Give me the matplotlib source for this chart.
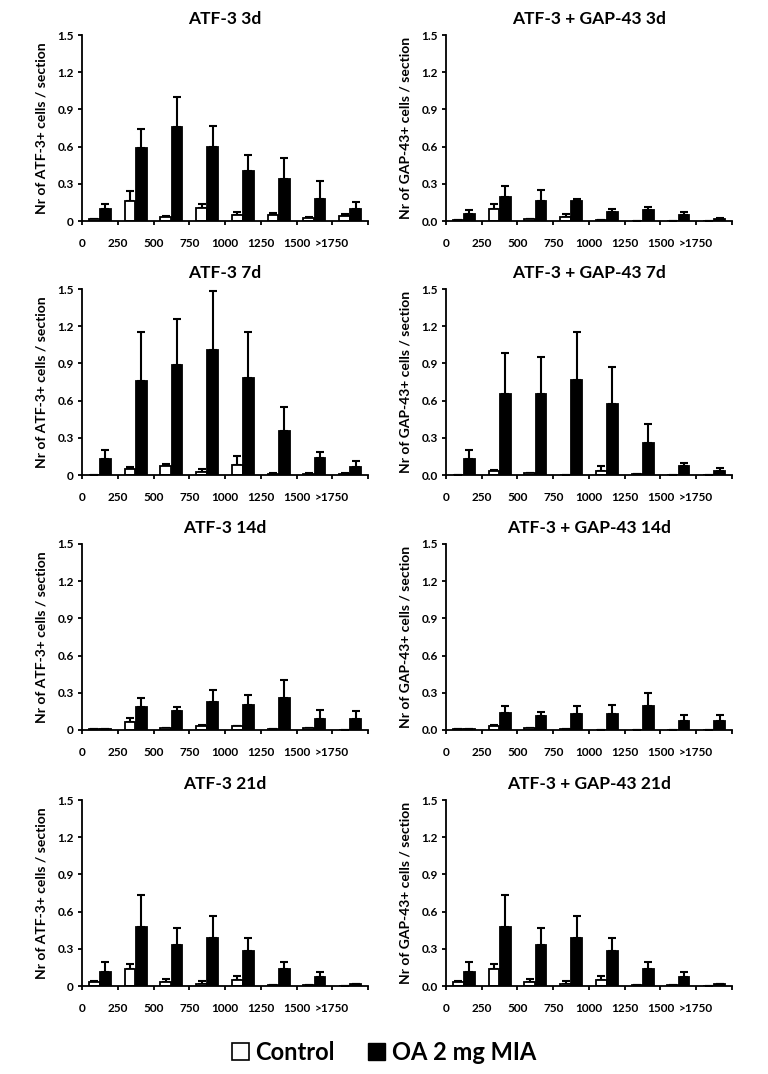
import numpy as np
import matplotlib
matplotlib.use("Agg")
import matplotlib.pyplot as plt
from matplotlib.patches import Patch

plt.rcParams['font.family'] = ['Lato', 'DejaVu Sans']
plt.rcParams['font.weight'] = 'bold'

bins = ['0', '250', '500', '750', '1000', '1250', '1500', '>1750']

# mean values and upper error-bar tops
atf3_3d_ctrl      = [0.015, 0.165, 0.03, 0.105, 0.05, 0.05, 0.025, 0.04]
atf3_3d_ctrl_top  = [0.02, 0.24, 0.04, 0.14, 0.075, 0.065, 0.035, 0.055]
atf3_3d_mia       = [0.10, 0.585, 0.755, 0.60, 0.40, 0.34, 0.175, 0.095]
atf3_3d_mia_top   = [0.135, 0.745, 1.0, 0.77, 0.53, 0.51, 0.325, 0.15]

gap43_3d_ctrl     = [0.01, 0.10, 0.02, 0.035, 0.01, 0.0, 0.0, 0.0]
gap43_3d_ctrl_top = [0.01, 0.14, 0.02, 0.055, 0.01, 0.0, 0.0, 0.0]
gap43_3d_mia      = [0.06, 0.195, 0.165, 0.16, 0.075, 0.09, 0.045, 0.02]
gap43_3d_mia_top  = [0.09, 0.285, 0.25, 0.175, 0.095, 0.115, 0.075, 0.025]

atf3_7d_ctrl      = [0.0, 0.05, 0.072, 0.025, 0.078, 0.01, 0.01, 0.01]
atf3_7d_ctrl_top  = [0.0, 0.065, 0.085, 0.05, 0.155, 0.02, 0.02, 0.02]
atf3_7d_mia       = [0.13, 0.76, 0.89, 1.01, 0.785, 0.355, 0.14, 0.067]
atf3_7d_mia_top   = [0.205, 1.155, 1.255, 1.485, 1.155, 0.545, 0.188, 0.115]

gap43_7d_ctrl     = [0.0, 0.035, 0.02, 0.0, 0.035, 0.01, 0.0, 0.0]
gap43_7d_ctrl_top = [0.0, 0.04, 0.02, 0.0, 0.07, 0.01, 0.0, 0.0]
gap43_7d_mia      = [0.13, 0.657, 0.657, 0.77, 0.575, 0.255, 0.07, 0.035]
gap43_7d_mia_top  = [0.205, 0.985, 0.953, 1.154, 0.872, 0.41, 0.097, 0.056]

atf3_14d_ctrl      = [0.01, 0.067, 0.02, 0.03, 0.03, 0.01, 0.02, 0.0]
atf3_14d_ctrl_top  = [0.01, 0.10, 0.02, 0.04, 0.03, 0.01, 0.02, 0.0]
atf3_14d_mia       = [0.01, 0.188, 0.15, 0.228, 0.20, 0.26, 0.09, 0.09]
atf3_14d_mia_top   = [0.01, 0.26, 0.188, 0.322, 0.28, 0.405, 0.16, 0.155]

gap43_14d_ctrl     = [0.01, 0.035, 0.015, 0.005, 0.0, 0.0, 0.0, 0.0]
gap43_14d_ctrl_top = [0.01, 0.04, 0.015, 0.005, 0.0, 0.0, 0.0, 0.0]
gap43_14d_mia      = [0.01, 0.14, 0.115, 0.125, 0.13, 0.197, 0.075, 0.075]
gap43_14d_mia_top  = [0.01, 0.195, 0.148, 0.195, 0.205, 0.30, 0.123, 0.123]

atf3_21d_ctrl      = [0.035, 0.14, 0.035, 0.02, 0.05, 0.01, 0.01, 0.0]
atf3_21d_ctrl_top  = [0.04, 0.18, 0.06, 0.043, 0.083, 0.01, 0.01, 0.0]
atf3_21d_mia       = [0.11, 0.48, 0.327, 0.39, 0.28, 0.135, 0.075, 0.02]
atf3_21d_mia_top   = [0.19, 0.738, 0.47, 0.566, 0.384, 0.196, 0.115, 0.02]

gap43_21d_ctrl     = [0.035, 0.14, 0.035, 0.02, 0.05, 0.01, 0.01, 0.0]
gap43_21d_ctrl_top = [0.04, 0.18, 0.06, 0.043, 0.083, 0.01, 0.01, 0.0]
gap43_21d_mia      = [0.11, 0.48, 0.327, 0.39, 0.28, 0.135, 0.075, 0.02]
gap43_21d_mia_top  = [0.19, 0.738, 0.47, 0.566, 0.384, 0.196, 0.115, 0.02]

panels = [
    ('ATF-3 3d', 'Nr of ATF-3+ cells / section', atf3_3d_ctrl, atf3_3d_ctrl_top, atf3_3d_mia, atf3_3d_mia_top),
    ('ATF-3 + GAP-43 3d', 'Nr of GAP-43+ cells / section', gap43_3d_ctrl, gap43_3d_ctrl_top, gap43_3d_mia, gap43_3d_mia_top),
    ('ATF-3 7d', 'Nr of ATF-3+ cells / section', atf3_7d_ctrl, atf3_7d_ctrl_top, atf3_7d_mia, atf3_7d_mia_top),
    ('ATF-3 + GAP-43 7d', 'Nr of GAP-43+ cells / section', gap43_7d_ctrl, gap43_7d_ctrl_top, gap43_7d_mia, gap43_7d_mia_top),
    ('ATF-3 14d', 'Nr of ATF-3+ cells / section', atf3_14d_ctrl, atf3_14d_ctrl_top, atf3_14d_mia, atf3_14d_mia_top),
    ('ATF-3 + GAP-43 14d', 'Nr of GAP-43+ cells / section', gap43_14d_ctrl, gap43_14d_ctrl_top, gap43_14d_mia, gap43_14d_mia_top),
    ('ATF-3 21d', 'Nr of ATF-3+ cells / section', atf3_21d_ctrl, atf3_21d_ctrl_top, atf3_21d_mia, atf3_21d_mia_top),
    ('ATF-3 + GAP-43 21d', 'Nr of GAP-43+ cells / section', gap43_21d_ctrl, gap43_21d_ctrl_top, gap43_21d_mia, gap43_21d_mia_top),
]

fig = plt.figure(figsize=(7.68, 10.74), dpi=100)
lefts = [0.1068, 0.5807]
bottoms = [0.7942, 0.5577, 0.3203, 0.0819]
w, h = 0.3724, 0.1732
bw = 0.30
x = np.arange(len(bins)) + 0.5

for i, (title, ylab, ctrl, ctrl_top, mia, mia_top) in enumerate(panels):
    col = i % 2
    ax = fig.add_axes([lefts[col], bottoms[i // 2], w, h])
    ctrl = np.array(ctrl); mia = np.array(mia)
    ax.bar(x - 0.155, ctrl, bw, color='white', edgecolor='black', linewidth=1.3, zorder=2)
    ax.bar(x + 0.155, mia, bw, color='black', edgecolor='black', linewidth=1.3, zorder=2)
    ax.errorbar(x - 0.155, ctrl, yerr=[np.zeros(8), np.array(ctrl_top) - ctrl],
                fmt='none', ecolor='black', elinewidth=1.5, capsize=2.8, capthick=1.5, zorder=1)
    ax.errorbar(x + 0.155, mia, yerr=[np.zeros(8), np.array(mia_top) - mia],
                fmt='none', ecolor='black', elinewidth=1.5, capsize=2.8, capthick=1.5, zorder=1)

    ax.set_xlim(0, 8)
    ax.set_ylim(0, 1.5)
    ax.set_xticks(np.arange(9))
    ax.set_xticklabels(bins + [''])
    yt = [0, 0.3, 0.6, 0.9, 1.2, 1.5]
    ax.set_yticks(yt)
    if col == 0:
        ax.set_yticklabels(['0'] + ['%.1f' % v for v in yt[1:]])
    else:
        ax.set_yticklabels(['%.1f' % v for v in yt])
    for s in ['top', 'right']:
        ax.spines[s].set_visible(False)
    for s in ['left', 'bottom']:
        ax.spines[s].set_linewidth(1.3)
    ax.tick_params(axis='x', direction='out', length=3, width=1.3, pad=9, labelsize=8.5)
    ax.tick_params(axis='y', direction='out', length=3, width=1.3, pad=3, labelsize=8.5)
    ax.set_ylabel(ylab, fontsize=10, fontweight='bold', labelpad=7)
    ax.set_title(title, fontsize=12.5, fontweight='bold', pad=8)

handles = [Patch(facecolor='white', edgecolor='black', linewidth=1.2, label='Control'),
           Patch(facecolor='black', edgecolor='black', label='OA 2 mg MIA')]
fig.legend(handles=handles, loc='center', bbox_to_anchor=(0.5, 0.02), ncol=2, frameon=False,
           handlelength=0.7, handleheight=0.7, handletextpad=0.3, columnspacing=1.4,
           prop={'weight': 'bold', 'size': 17})

fig.savefig('out.png', dpi=100)
